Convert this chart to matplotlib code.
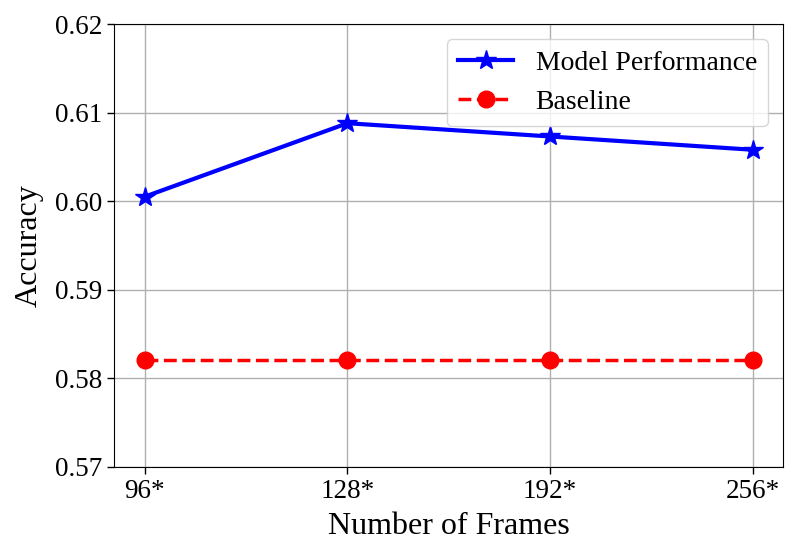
import matplotlib

matplotlib.use("Agg")
import matplotlib.pyplot as plt

frames = ["96*", "128*", "192*", "256*"]
model_acc = [0.6005, 0.6088, 0.6073, 0.6058]
baseline_acc = [0.582, 0.582, 0.582, 0.582]

plt.rcParams["font.family"] = ["Liberation Serif", "DejaVu Serif"]

fig = plt.figure(figsize=(7.98, 5.58), dpi=100)
ax = fig.add_axes([0.1432, 0.1636, 0.8384, 0.7933])

xs = range(len(frames))
ax.plot(xs, model_acc, color="blue", marker="*", markersize=15, lw=3,
        label="Model Performance")
ax.plot(xs, baseline_acc, color="red", marker="o", markersize=12, lw=2.5,
        ls="--", label="Baseline")

ax.set_xticks(list(xs))
ax.set_xticklabels(frames)
ax.set_xlim(-0.15, 3.15)
ax.set_ylim(0.57, 0.62)
ax.set_yticks([0.57, 0.58, 0.59, 0.60, 0.61, 0.62])
ax.tick_params(labelsize=19.5, length=5, width=1)
ax.grid(True, color="#b0b0b0", lw=1)
ax.set_xlabel("Number of Frames", fontsize=23, labelpad=6)
ax.set_ylabel("Accuracy", fontsize=23, labelpad=8)
ax.legend(loc="upper right", fontsize=20, borderaxespad=0.55)

fig.savefig("out.png", dpi=100)
